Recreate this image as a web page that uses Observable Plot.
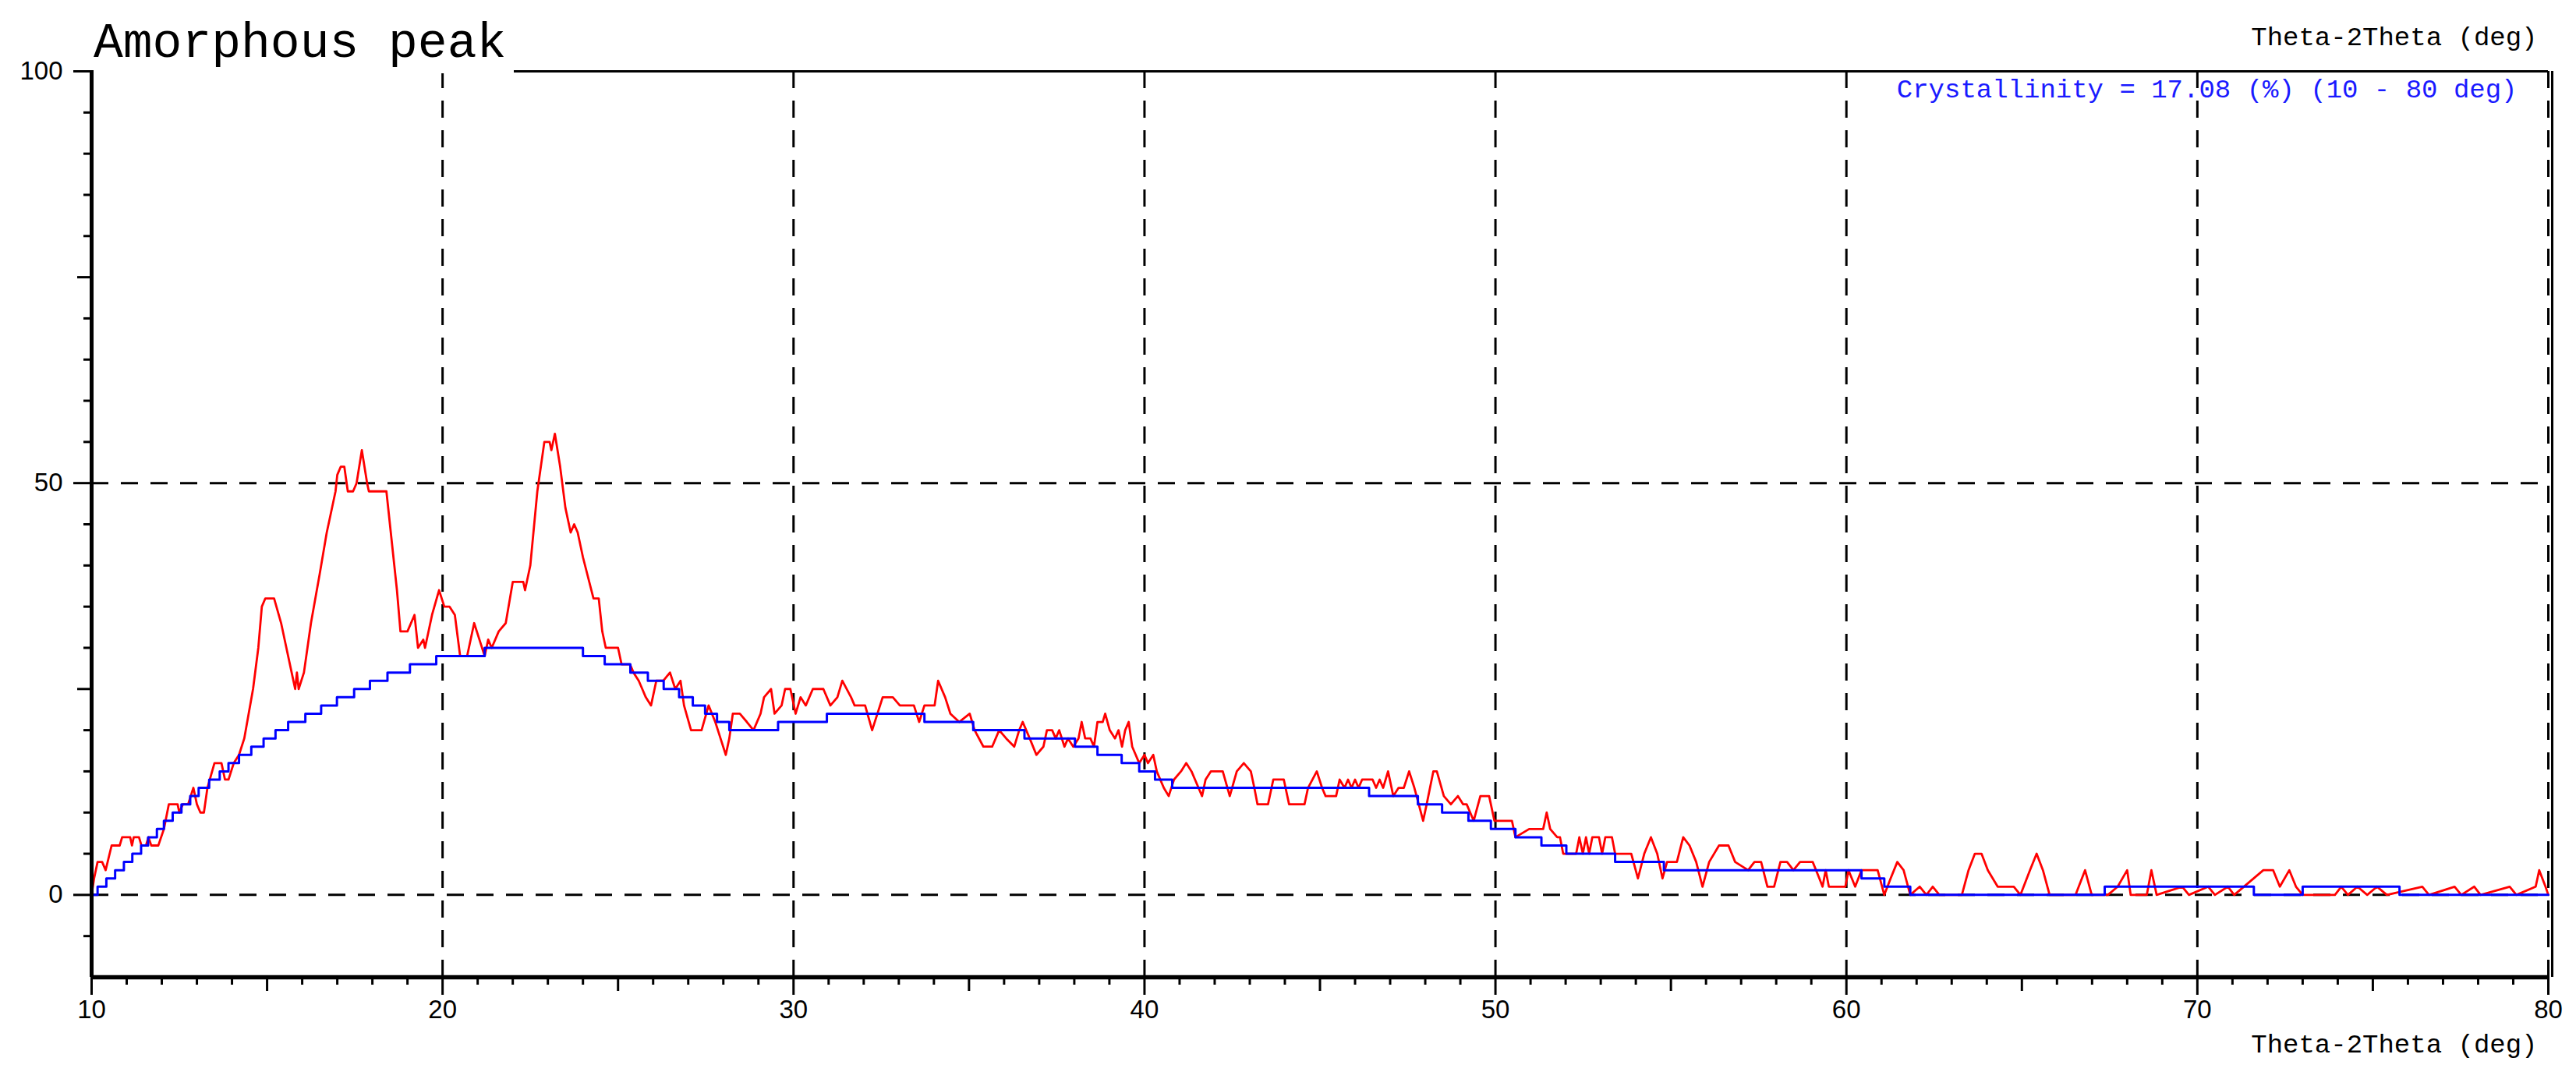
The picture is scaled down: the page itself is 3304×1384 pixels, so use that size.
<!DOCTYPE html>
<html>
<head>
<meta charset="utf-8">
<script src="https://cdn.jsdelivr.net/npm/d3@7"></script>
<script src="https://cdn.jsdelivr.net/npm/@observablehq/plot@0.6"></script>
<style>
  html, body { margin: 0; padding: 0; background: #fff; }
  #wrap { position: relative; width: 3304px; height: 1384px; overflow: hidden; }
  #wrap svg { position: absolute; left: 0; top: 0; }
  #title {
    position: absolute; left: 120px; top: 25px;
    font-family: "Liberation Mono", "Courier New", monospace;
    font-size: 63px; line-height: 63px;
    padding: 0 10px 6px 0; background: #fff; color: #000; white-space: pre;
  }
</style>
</head>
<body>
<div id="wrap"><div id="title">Amorphous peak</div></div>
<script>
// ---- data ----
const titleText = "Amorphous peak";
const xLabel = "Theta-2Theta (deg)";
const noteText = "Crystallinity = 17.08 (%) (10 - 80 deg)";

// measured profile (red)
const measTheta = [
  10.0,10.07,10.17,10.3,10.4,10.57,10.8,10.87,11.1,11.15,11.2,11.35,11.42,11.55,11.62,11.7,11.9,
  12.06,12.2,12.45,12.5,12.6,12.75,12.9,13.0,13.1,13.2,13.3,13.5,13.7,13.8,13.9,14.05,14.2,14.35,
  14.6,14.75,14.85,14.95,15.2,15.4,15.55,15.7,15.8,15.85,15.9,16.05,16.15,16.25,16.5,16.7,16.8,
  16.95,17.0,17.1,17.2,17.3,17.45,17.55,17.7,17.85,17.9,18.4,18.6,18.7,18.8,19.0,19.2,19.3,19.45,
  19.5,19.7,19.9,20.05,20.2,20.35,20.5,20.7,20.9,21.05,21.2,21.3,21.4,21.6,21.8,22.0,22.3,22.35,
  22.5,22.7,22.9,23.05,23.1,23.2,23.35,23.5,23.65,23.75,23.85,24.0,24.3,24.45,24.55,24.65,24.8,
  25.0,25.1,25.34,25.44,25.59,25.69,25.79,25.94,26.09,26.29,26.48,26.63,26.78,26.88,27.08,27.38,
  27.58,27.77,27.92,28.07,28.17,28.27,28.47,28.67,28.86,29.06,29.16,29.36,29.46,29.66,29.76,29.91,
  30.06,30.2,30.35,30.55,30.85,31.05,31.25,31.39,31.64,31.74,32.04,32.24,32.54,32.83,33.03,33.23,
  33.43,33.58,33.73,34.02,34.12,34.32,34.47,34.72,35.02,35.16,35.41,35.66,35.86,36.06,36.29,
  36.43,36.53,36.63,36.73,36.92,37.12,37.22,37.37,37.47,37.57,37.72,37.82,37.97,38.12,38.21,38.31,
  38.46,38.56,38.66,38.81,38.88,39.01,39.16,39.26,39.36,39.45,39.55,39.65,39.75,39.85,40.0,40.1,
  40.25,40.35,40.55,40.69,40.84,41.04,41.19,41.34,41.44,41.64,41.74,41.89,42.23,42.43,42.63,42.83,
  43.03,43.13,43.22,43.52,43.67,43.97,44.12,44.56,44.66,44.91,45.06,45.16,45.46,45.56,45.7,45.8,
  45.9,46.0,46.1,46.2,46.5,46.6,46.7,46.8,46.94,47.09,47.24,47.39,47.54,47.69,47.94,48.04,48.23,
  48.33,48.53,48.73,48.93,49.08,49.18,49.38,49.57,49.82,49.97,50.47,50.57,50.96,51.36,51.46,51.56,
  51.76,51.84,51.93,52.3,52.39,52.49,52.58,52.67,52.76,52.95,53.04,53.13,53.32,53.41,53.87,54.06,
  54.24,54.43,54.61,54.76,54.89,55.17,55.35,55.53,55.72,55.9,56.09,56.37,56.64,56.83,57.2,57.38,
  57.57,57.75,57.94,58.12,58.31,58.49,58.68,59.04,59.23,59.32,59.41,59.5,59.97,60.06,60.25,60.43,
  60.89,61.08,61.26,61.45,61.63,61.82,62.09,62.28,62.46,62.65,63.29,63.48,63.66,63.85,64.03,64.31,
  64.77,64.96,65.23,65.42,65.6,65.79,66.53,66.62,66.8,66.99,67.45,67.73,68.0,68.1,68.56,68.69,
  68.84,69.57,69.76,70.31,70.5,70.87,71.05,71.88,72.16,72.35,72.62,72.81,73.0,73.92,74.1,74.29,
  74.56,74.84,75.12,75.4,76.41,76.6,77.33,77.52,77.89,78.07,78.9,79.09,79.64,79.74,79.92,80.0
];
const measIntensity = [
  0,2,4,4,3,6,6,7,7,6,7,7,6,6,7,6,6,
  8,11,11,10,11,11,13,11,10,10,13,16,16,14,14,16,17,19,
  25,30,35,36,36,33,30,27,25,27,25,27,30,33,39,44,46,
  49,51,52,52,49,49,50,54,50,49,49,41,37,32,32,34,30,31,
  30,34,37,35,35,34,29,29,33,31,29,31,30,32,33,38,38,37,
  40,49,55,55,54,56,52,47,44,45,44,41,36,36,32,30,30,
  30,28,28,27,26,25,24,23,26,26,27,25,26,23,20,20,
  23,21,19,17,19,22,22,21,20,22,24,25,22,23,25,25,
  22,24,23,25,25,23,24,26,24,23,23,20,24,24,23,23,
  23,21,23,23,26,24,22,21,22,20,18,18,20,19,18,
  20,21,20,19,17,18,20,20,19,20,18,19,18,19,21,19,
  19,18,21,21,22,20,19,20,18,20,21,18,17,16,17,16,
  17,15,13,12,14,15,16,15,14,12,14,15,15,12,15,16,
  15,13,11,11,14,14,11,11,13,15,13,12,12,14,13,14,
  13,14,13,14,14,13,14,13,15,12,13,13,15,13,9,11,15,
  15,12,11,12,11,11,9,12,12,9,9,7,8,8,10,8,
  7,7,5,5,7,5,7,5,7,7,5,7,7,5,5,2,
  5,7,5,2,4,4,7,6,4,1,4,6,6,4,3,4,
  4,1,1,4,4,3,4,4,2,1,3,1,1,3,1,3,
  3,0,2,4,3,0,1,0,1,0,0,3,5,5,3,1,
  1,0,3,5,3,0,0,1,3,0,0,1,3,0,0,3,
  0,1,0,1,0,1,0,3,3,1,3,1,0,0,1,0,
  1,0,1,0,1,0,1,0,1,0,1,0,1,3,1,0
];

// amorphous background (blue, stepped)
const bgTheta = [
  10,10.17,10.42,10.67,10.92,11.16,11.41,11.61,11.86,12.06,12.31,12.56,12.81,13.05,13.35,13.65,
  13.9,14.2,14.55,14.9,15.24,15.6,16.09,16.54,16.99,17.48,17.93,18.43,19.07,19.82,21.2,24.0,
  24.62,25.35,25.85,26.3,26.74,27.13,27.48,27.82,28.17,29.56,30.95,33.73,35.12,36.58,38.02,38.66,
  39.35,39.85,40.3,40.79,46.4,47.79,48.48,49.23,49.87,50.57,51.31,52.02,53.41,54.8,60.43,61.08,
  61.82,67.36,71.61,73.0,75.76,80
];
const bgIntensity = [
  0,1,2,3,4,5,6,7,8,9,10,11,12,13,14,15,
  16,17,18,19,20,21,22,23,24,25,26,27,28,29,30,29,
  28,27,26,25,24,23,22,21,20,21,22,21,20,19,18,17,
  16,15,14,13,12,11,10,9,8,7,6,5,4,3,2,1,
  0,1,0,1,0,0
];

// axis ticks
const xMajor = [10,20,30,40,50,60,70,80];
const xMid = [15,25,35,45,55,65,75];
const xMinor = d3.range(11, 80).filter(v => v % 5 !== 0);
const yMajor = [0,50,100];
const yMid = [25,75];
const yMinor = [-5,5,10,15,20,30,35,40,45,55,60,65,70,80,85,90,95];
const xGrid = [20,30,40,50,60,70,80];
const yGrid = [0,50];

// ---- build ----
const meas = measTheta.map((t, i) => ({t, v: measIntensity[i]}));
const bg = bgTheta.map((t, i) => ({t, v: bgIntensity[i]}));
const dash = "22,16";
const mono = "Liberation Mono, Courier New, monospace";
const noLabel = () => "";

const chart = Plot.plot({
  width: 3304,
  height: 1384,
  marginLeft: 117,
  marginRight: 36,
  marginTop: 91,
  marginBottom: 131,
  style: {fontFamily: "Liberation Sans, Arial, sans-serif", fontSize: "33px", background: "white", color: "black"},
  x: {domain: [10, 80], label: null},
  y: {domain: [-10, 100], label: null},
  marks: [
    // top border and right border
    Plot.ruleY([100], {stroke: "black", strokeWidth: 3}),
    Plot.ruleX([80], {stroke: "black", strokeWidth: 3, dx: 5}),
    // texts
    Plot.text([noteText], {text: d => d, frameAnchor: "top-right", textAnchor: "end", lineAnchor: "middle",
      dx: -40, dy: 23, fill: "#1a1aff", fontSize: 34, fontFamily: mono}),
    Plot.text([xLabel], {text: d => d, frameAnchor: "top-right", textAnchor: "end", lineAnchor: "middle",
      dx: -14, dy: -44, fill: "black", fontSize: 34, fontFamily: mono}),
    Plot.text([xLabel], {text: d => d, frameAnchor: "bottom-right", textAnchor: "end", lineAnchor: "middle",
      dx: -14, dy: 86, fill: "black", fontSize: 34, fontFamily: mono}),
    // dashed grid
    Plot.ruleX(xGrid, {stroke: "black", strokeWidth: 3, strokeDasharray: dash}),
    Plot.ruleY(yGrid, {stroke: "black", strokeWidth: 3, strokeDasharray: dash}),
    // data
    Plot.line(meas, {x: "t", y: "v", stroke: "#ff0000", strokeWidth: 2.8}),
    Plot.line(bg, {x: "t", y: "v", curve: "step-after", stroke: "#0000ff", strokeWidth: 3}),
    // axes
    Plot.axisX(xMinor, {anchor: "bottom", label: null, tickSize: 10, tickFormat: noLabel, strokeWidth: 3}),
    Plot.axisX(xMid, {anchor: "bottom", label: null, tickSize: 18, tickFormat: noLabel, strokeWidth: 3}),
    Plot.axisX(xMajor, {anchor: "bottom", label: null, tickSize: 23, tickPadding: 6, tickFormat: d => String(d), strokeWidth: 3, fontSize: 33}),
    Plot.axisY(yMinor, {anchor: "left", label: null, tickSize: 10, tickFormat: noLabel, strokeWidth: 3}),
    Plot.axisY(yMid, {anchor: "left", label: null, tickSize: 18, tickFormat: noLabel, strokeWidth: 3}),
    Plot.axisY(yMajor, {anchor: "left", label: null, tickSize: 23, tickPadding: 14, tickFormat: d => String(d), strokeWidth: 3, fontSize: 33}),
    Plot.ruleX([10], {stroke: "black", strokeWidth: 5}),
    Plot.ruleY([-10], {stroke: "black", strokeWidth: 5.5})
  ]
});
document.getElementById("wrap").insertBefore(chart, document.getElementById("title"));
</script>
</body>
</html>
